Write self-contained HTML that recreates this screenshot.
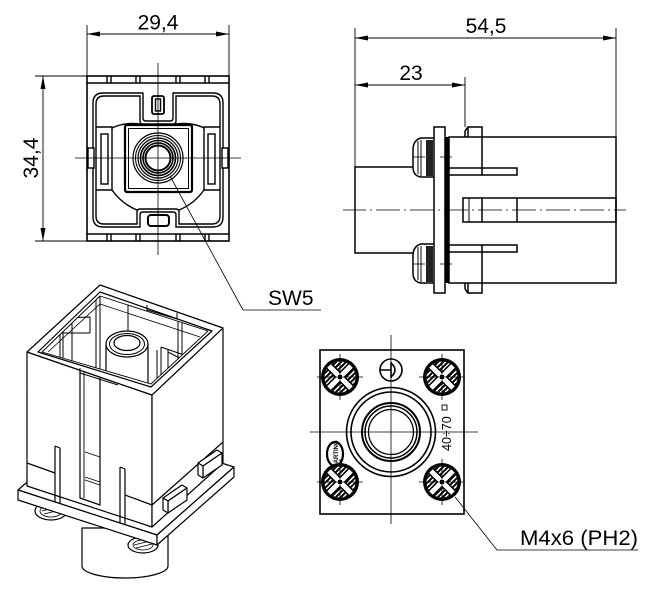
<!DOCTYPE html>
<html><head><meta charset="utf-8">
<style>
html,body{margin:0;padding:0;background:#fff;}
svg{display:block;}
text{font-family:"Liberation Sans",sans-serif;fill:#000;stroke:none;}
</style></head><body>
<svg width="650" height="602" viewBox="0 0 650 602" xmlns="http://www.w3.org/2000/svg">
<defs>
 <clipPath id="sc"><circle r="15.5"/></clipPath>
 <g id="scr">
  <circle r="19" fill="#000"/>
  <circle r="15.5" fill="#fff"/>
  <g clip-path="url(#sc)" stroke="#000" stroke-width="2">
   <line x1="-40" y1="16" x2="-8" y2="-16"/><line x1="-35" y1="16" x2="-3" y2="-16"/>
   <line x1="-30" y1="16" x2="2" y2="-16"/><line x1="-25" y1="16" x2="7" y2="-16"/>
   <line x1="-20" y1="16" x2="12" y2="-16"/><line x1="-15" y1="16" x2="17" y2="-16"/>
   <line x1="-10" y1="16" x2="22" y2="-16"/><line x1="-5" y1="16" x2="27" y2="-16"/>
   <line x1="0" y1="16" x2="32" y2="-16"/><line x1="5" y1="16" x2="37" y2="-16"/>
   <line x1="10" y1="16" x2="42" y2="-16"/>
  </g>
  <g stroke="#000" stroke-width="8"><line x1="-11" y1="-11" x2="11" y2="11"/><line x1="-11" y1="11" x2="11" y2="-11"/></g>
  <g stroke="#fff" stroke-width="5"><line x1="-11" y1="-11" x2="11" y2="11"/><line x1="-11" y1="11" x2="11" y2="-11"/></g>
  <rect x="-2" y="-2" width="4" height="4" fill="#000"/>
  <g stroke="#000" stroke-width="0.8"><line x1="-23" y1="0" x2="23" y2="0"/><line x1="0" y1="-23" x2="0" y2="23"/></g>
 </g>
 <clipPath id="opening"><polygon points="42,352 100,296 208,331 151,384"/></clipPath>
</defs>

<!-- ================= TOP-LEFT VIEW ================= -->
<g fill="none" stroke="#000" stroke-width="0.9">
 <line x1="87" y1="25" x2="87" y2="76"/>
 <line x1="229" y1="25" x2="229" y2="76"/>
 <line x1="87" y1="34" x2="229" y2="34"/>
 <line x1="35" y1="76" x2="87" y2="76"/>
 <line x1="35" y1="241" x2="87" y2="241"/>
 <line x1="43" y1="76" x2="43" y2="241"/>
</g>
<g fill="#000">
 <polygon points="87,34 100,31.5 100,36.5"/>
 <polygon points="229,34 216,31.5 216,36.5"/>
 <polygon points="43,76 40.5,89 45.5,89"/>
 <polygon points="43,241 40.5,228 45.5,228"/>
</g>
<text x="158" y="29.5" font-size="21" text-anchor="middle">29,4</text>
<text transform="translate(38,158) rotate(-90)" font-size="21" text-anchor="middle">34,4</text>

<g fill="none" stroke="#000" stroke-width="1.4">
 <rect x="87" y="76" width="142" height="165" stroke-width="1.6"/>
 <line x1="87" y1="83" x2="229" y2="83"/>
 <line x1="87" y1="234" x2="229" y2="234"/>
 <path d="M107,76V83M111,76V83M136,76V83M140,76V83M176,76V83M180,76V83M205,76V83M209,76V83"/>
 <path d="M107,234V241M111,234V241M136,234V241M140,234V241M176,234V241M180,234V241M205,234V241M209,234V241"/>
 <path d="M103,93 H143 V118 Q143,121 146,121 H170 Q173,121 173,118 V93 H213 Q223,93 223,103 V217 Q223,227 213,227 H176 V215 Q176,212 173,212 H143 Q140,212 140,215 V227 H103 Q93,227 93,217 V103 Q93,93 103,93 Z"/>
 <path d="M104,96 H140 V121 Q140,124 143,124 H173 Q176,124 176,121 V96 H212 Q220,96 220,104 V216 Q220,224 212,224 H179 V212 Q179,209 176,209 H140 Q137,209 137,212 V224 H104 Q96,224 96,216 V104 Q96,96 104,96 Z"/>
 <rect x="152" y="96" width="12" height="18" rx="2" stroke-width="1.8"/>
 <rect x="155.5" y="99" width="5" height="12"/>
 <rect x="148" y="215" width="21" height="11" rx="3" stroke-width="2"/>
 <path d="M96,127 H112 V190 H96"/>
 <rect x="101" y="134" width="7" height="50"/>
 <path d="M220,127 H204 V190 H220"/>
 <rect x="208" y="134" width="7" height="50"/>
 <rect x="88" y="148" width="6" height="20" fill="#fff"/>
 <rect x="222" y="148" width="6" height="20" fill="#fff"/>
 <path d="M112,128 Q124,122 140,124"/>
 <path d="M176,124 Q192,122 204,128"/>
 <path d="M112,190 Q122,204 137,210"/>
 <path d="M179,210 Q194,204 204,190"/>
 <rect x="125" y="125" width="67" height="67" rx="2" stroke-width="2.2"/>
 <rect x="128.5" y="128.5" width="60" height="60" stroke-width="1"/>
 <circle cx="158" cy="158" r="25" stroke-width="1.2"/>
 <circle cx="158" cy="158" r="22.5" stroke-width="1"/>
 <circle cx="158" cy="158" r="20" stroke-width="1.2"/>
 <circle cx="158" cy="158" r="17.5" stroke-width="1.6"/>
 <circle cx="158" cy="158" r="15" stroke-width="1.6"/>
 <circle cx="158" cy="158" r="12.5" stroke-width="2" fill="#fff"/>
</g>
<g stroke="#000" stroke-width="0.8" fill="none">
 <line x1="158" y1="63" x2="158" y2="255"/>
 <line x1="75" y1="158" x2="241" y2="158"/>
 <line x1="170" y1="176" x2="243" y2="310"/>
 <line x1="243" y1="310" x2="321" y2="310"/>
</g>
<text x="268" y="305" font-size="21">SW5</text>

<!-- ================= TOP-RIGHT SIDE VIEW ================= -->
<g fill="none" stroke="#000" stroke-width="0.9">
 <line x1="355" y1="28" x2="355" y2="167"/>
 <line x1="616" y1="28" x2="616" y2="137"/>
 <line x1="355" y1="38" x2="616" y2="38"/>
 <line x1="355" y1="85" x2="465" y2="85"/>
 <line x1="465" y1="77" x2="465" y2="127"/>
</g>
<g fill="#000">
 <polygon points="355,38 368,35.5 368,40.5"/>
 <polygon points="616,38 603,35.5 603,40.5"/>
 <polygon points="355,85 368,82.5 368,87.5"/>
 <polygon points="465,85 452,82.5 452,87.5"/>
</g>
<text x="486" y="33" font-size="21" text-anchor="middle">54,5</text>
<text x="411" y="80" font-size="21" text-anchor="middle">23</text>

<g fill="none" stroke="#000" stroke-width="1.5">
 <path d="M413,167 H355 V253 H413"/>
 <!-- screw heads -->
 <path d="M434,138 H421 Q413,140 413,150 V167 Q413,176 421,177 H434" fill="#fff"/>
 <path d="M434,244 H421 Q413,246 413,256 V273 Q413,282 421,283 H434" fill="#fff"/>
 <path d="M418,141 V174 M421,140 V176 M418,247 V280 M421,246 V282" stroke-width="1"/>
 <!-- body -->
 <rect x="449" y="137" width="167" height="146" fill="#fff"/>
 <rect x="434" y="127" width="11" height="166" fill="#fff"/>
 <path d="M468,137 V127 H482 V137 M468,283 V293 H482 V283"/>
 <path d="M465,131 L468,127 M465,131 V137 M465,289 L468,293 M465,289 V283"/>
 <line x1="482" y1="137" x2="482" y2="175"/>
 <line x1="482" y1="245" x2="482" y2="283"/>
 <path d="M449,168 H517 V175 H449"/>
 <path d="M449,245 H517 V252 H449"/>
 <rect x="463" y="198" width="153" height="24"/>
 <line x1="469" y1="198" x2="469" y2="222" stroke-width="1"/>
 <line x1="482" y1="198" x2="482" y2="222"/>
 <line x1="517" y1="198" x2="517" y2="222"/>
</g>
<rect x="445" y="137" width="4.5" height="146" fill="#000"/>
<rect x="426" y="140" width="7" height="36" fill="#222"/>
<rect x="426" y="246" width="7" height="36" fill="#222"/>
<g stroke="#000" stroke-width="0.8" fill="none">
 <path d="M343,210 H366 M370,210 H372 M376,210 H400 M404,210 H406 M410,210 H434 M438,210 H440 M444,210 H468 M472,210 H474 M478,210 H502 M506,210 H508 M512,210 H536 M540,210 H542 M546,210 H570 M574,210 H576 M580,210 H604 M608,210 H610 M614,210 H626"/>
 <path d="M413,157 H425 M440,157 H452 M446,150 V165"/>
 <path d="M413,264 H425 M440,264 H452 M446,257 V272"/>
</g>

<!-- ================= BOTTOM-RIGHT VIEW ================= -->
<g fill="none" stroke="#000">
 <rect x="320" y="350" width="144" height="164" stroke-width="1.6"/>
 <circle cx="391" cy="432" r="44.5" stroke-width="1.6"/>
 <circle cx="391" cy="432" r="40" stroke-width="1.6"/>
 <circle cx="391" cy="432" r="29" stroke-width="2"/>
 <circle cx="391" cy="432" r="26" stroke-width="1.5"/>
 <circle cx="391" cy="432" r="22.5" stroke-width="1.2"/>
 <circle cx="391" cy="370" r="11" stroke-width="1.6" fill="#fff"/>
 <path d="M380,370 H391 M391,362 V378 M391,363 Q399,370 391,377" stroke-width="1.6"/>
 <ellipse cx="335" cy="454" rx="8" ry="12" stroke-width="2.2" fill="#fff"/>
</g>
<text transform="translate(338,454) rotate(-90)" font-size="6" font-weight="bold" text-anchor="middle">HARTING</text>
<use href="#scr" x="340" y="377"/>
<use href="#scr" x="442" y="377"/>
<use href="#scr" x="340" y="482"/>
<use href="#scr" x="442" y="482"/>
<g stroke="#000" stroke-width="0.8" fill="none">
 <line x1="391" y1="335" x2="391" y2="524"/>
 <line x1="310" y1="432" x2="478" y2="432"/>
 <path d="M455,497 L497,550 H638"/>
</g>
<text transform="translate(451,451) rotate(-90)" font-size="12.5">40÷70</text>
<rect x="442" y="405" width="5" height="5" fill="none" stroke="#000" stroke-width="0.9"/>
<text x="520" y="545" font-size="21" textLength="118" lengthAdjust="spacingAndGlyphs">M4x6 (PH2)</text>

<!-- ================= ISOMETRIC VIEW ================= -->
<g fill="#fff" stroke="#000" stroke-width="1.2" stroke-linejoin="round">
 <path d="M82,528 V566 A43,12 0 0 0 168,566 V528 Z"/>
 <ellipse cx="51" cy="511" rx="16" ry="9"/>
 <ellipse cx="51" cy="511" rx="11" ry="6" stroke-width="0.8"/>
 <ellipse cx="143" cy="545" rx="15" ry="8"/>
 <ellipse cx="143" cy="545" rx="10" ry="5" stroke-width="0.8"/>
 <path d="M42,511 L58,507 M44,514 L60,510 M134,545 L150,541 M136,548 L152,544" stroke-width="0.8"/>
 <polygon points="18,490 95,423 234,467 157,535"/>
 <polygon points="18,490 157,535 157,545 18,500"/>
 <polygon points="157,535 234,467 234,477 157,545"/>
 <polygon points="27,352 152,395 152,527 27,486"/>
 <polygon points="152,395 223,328 223,463 152,527"/>
 <polygon points="27,352 100,285 223,328 152,395"/>
 <polygon points="38,352 100,292 212,331 151,387"/>
</g>
<g clip-path="url(#opening)" fill="none" stroke="#000" stroke-width="1">
 <rect x="30" y="280" width="190" height="120" fill="#fff" stroke="none"/>
 <path d="M96,296 V400 M100,296 V400 M128,300 V340 M178,315 V365 M182,316 V365"/>
 <path d="M60,330 V375 M63,325 V375 M72,322 V370 M62,318 L90,317 M62,333 L90,333 M90,317 V333"/>
 <path d="M157,350 V385 M161,347 V385 M168,349 V385 M161,347 L187,356 M168,352 L187,362 M187,356 V380"/>
 <path d="M48,352 L100,304 L200,337" stroke-width="0.8"/>
 <path d="M106,344 V400 H148 V344" fill="#fff" stroke-width="1.2"/>
 <ellipse cx="127" cy="344" rx="21" ry="13" fill="#fff" stroke-width="1.2"/>
 <ellipse cx="127" cy="344" rx="17.5" ry="10.5"/>
 <ellipse cx="127" cy="343" rx="13" ry="7.5" stroke-width="1.2"/>
</g>
<g fill="none" stroke="#000" stroke-width="1.2" stroke-linejoin="round">
 <polygon points="42,352 100,296 208,331 151,384" stroke-width="0.9"/>
 <path d="M147,305 V310 L177,319 V313" stroke-width="1"/>
 <path d="M80,368 V373 L118,385" stroke-width="1"/>
 <path d="M80,370 V498 L100,505 V377"/>
 <path d="M84,371 V498" stroke-width="0.9"/>
 <path d="M85,452 L100,457 M85,477 L100,482 M85,480 L100,485" stroke-width="0.9"/>
 <path d="M55,446 V502 M60,448 V503 M55,446 L60,448"/>
 <path d="M120,467 V523 M125,469 V524 M120,467 L125,469"/>
 <path d="M27,463 L55,473 M125,495 L152,505 L223,442"/>
 <polygon points="163,498 182,485 187,488 168,501" fill="#fff"/>
 <polygon points="168,501 187,488 187,500 168,513" fill="#fff"/>
 <polygon points="163,498 168,501 168,513 163,510" fill="#fff"/>
 <polygon points="198,463 217,450 222,453 203,466" fill="#fff"/>
 <polygon points="203,466 222,453 222,465 203,478" fill="#fff"/>
 <polygon points="198,463 203,466 203,478 198,475" fill="#fff"/>
</g>
</svg>
</body></html>
